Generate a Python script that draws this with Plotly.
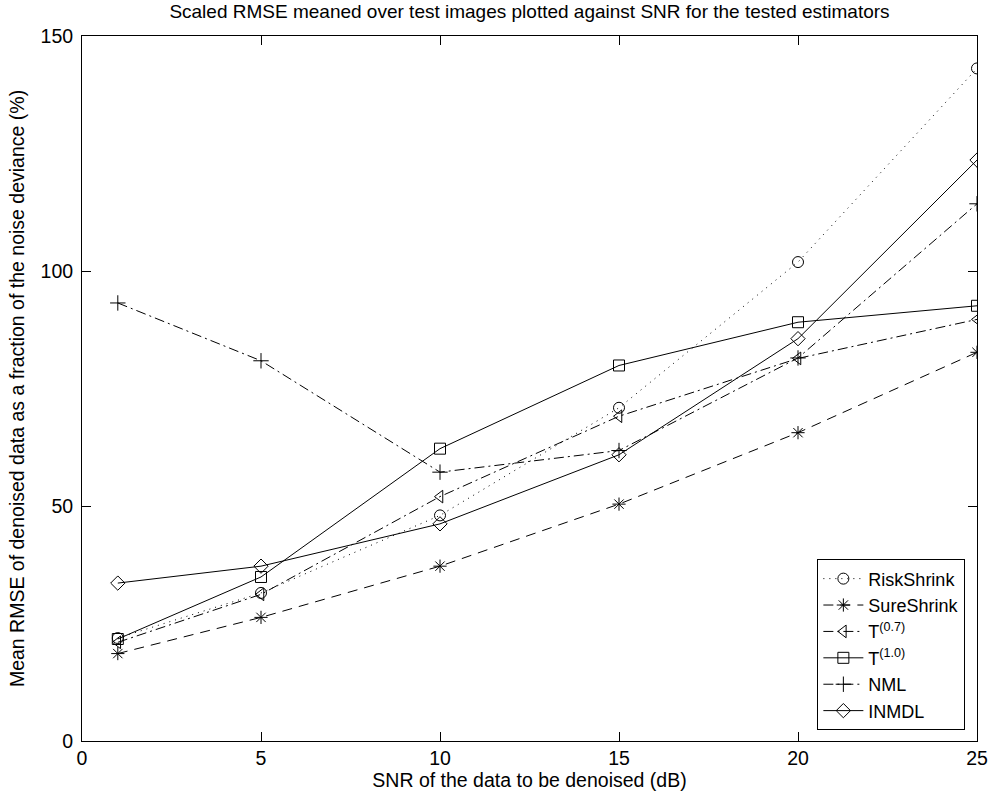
import plotly.graph_objects as go

snr = [1, 5, 10, 15, 20, 25]
risk_shrink = [21.9, 31.5, 48.0, 70.9, 101.9, 143.1]
sure_shrink = [18.6, 26.3, 37.2, 50.4, 65.6, 82.7]
t07 = [21.0, 31.2, 52.0, 69.1, 81.4, 89.7]
t10 = [21.7, 34.9, 62.2, 79.9, 89.1, 92.6]
nml = [93.2, 80.9, 57.2, 61.8, 81.5, 114.3]
inmdl = [33.6, 37.2, 46.2, 60.9, 85.6, 123.6]

names = ["RiskShrink", "SureShrink", "T<sup>(0.7)</sup>", "T<sup>(1.0)</sup>", "NML", "INMDL"]
series = [risk_shrink, sure_shrink, t07, t10, nml, inmdl]
symbols = ["circle-open", "asterisk-open", "triangle-left-open", "square-open", "cross-thin-open", "diamond-open"]
dashes = ["1px,5px", "10px,7px", "10px,4px,2px,4px", "solid", "10px,4px,2px,4px", "solid"]

fig = go.Figure()
for name, ys, sym, dash in zip(names, series, symbols, dashes):
    fig.add_trace(go.Scatter(
        x=snr, y=ys, name=name, mode="lines+markers",
        line=dict(color="black", width=1, dash=dash),
        marker=dict(symbol=sym, size=11, color="black", line=dict(color="black", width=1)),
    ))

font = "Liberation Sans, Arial, sans-serif"
fs = 19.5
fig.update_layout(
    width=989, height=798,
    margin=dict(l=82, r=12, t=36, b=57, autoexpand=False),
    paper_bgcolor="white", plot_bgcolor="white",
    font=dict(family=font, size=fs, color="black"),
    title=dict(text="Scaled RMSE meaned over test images plotted against SNR for the tested estimators",
               x=0.5, xref="paper", xanchor="center", y=0.986, yanchor="middle",
               font=dict(size=19, family=font)),
    showlegend=True,
    legend=dict(x=0.987, xanchor="right", y=0.015, yanchor="bottom",
                bgcolor="white", bordercolor="black", borderwidth=1,
                font=dict(size=18, family=font), tracegroupgap=0,
                itemwidth=40),
)
fig.update_xaxes(range=[0, 25], tickvals=[0, 5, 10, 15, 20, 25],
                 ticks="inside", ticklen=9, tickcolor="black",
                 showline=True, linecolor="black", linewidth=1, mirror="ticks",
                 showgrid=False, zeroline=False, automargin=False,
                 tickfont=dict(size=fs, family=font),
                 title=dict(text="SNR of the data to be denoised (dB)", standoff=4,
                            font=dict(size=fs, family=font)))
fig.update_yaxes(range=[0, 150], tickvals=[0, 50, 100, 150],
                 ticks="inside", ticklen=9, tickcolor="black",
                 showline=True, linecolor="black", linewidth=1, mirror="ticks",
                 showgrid=False, zeroline=False, automargin=False,
                 ticklabelstandoff=4,
                 tickfont=dict(size=fs, family=font),
                 title=dict(text="Mean RMSE of denoised data as a fraction of the noise deviance (%)",
                            standoff=10, font=dict(size=fs, family=font)))

fig.write_html("out.html")
